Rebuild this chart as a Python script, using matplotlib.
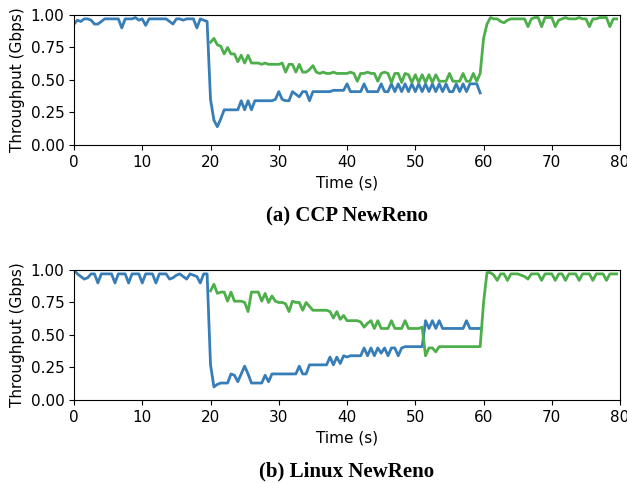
import numpy as np
import matplotlib
matplotlib.use("Agg")
import matplotlib.pyplot as plt

# sample times (0.5 s steps)
time_flow1 = np.arange(0, 60, 0.5)
time_flow2 = np.arange(20, 80, 0.5)

# (a) CCP NewReno
ccp_flow1 = [0.93, 0.96, 0.95, 0.97, 0.97, 0.96, 0.93, 0.93, 0.95, 0.97,
             0.97, 0.97, 0.97, 0.97, 0.90, 0.97, 0.97, 0.97, 0.98, 0.96,
             0.97, 0.92, 0.97, 0.97, 0.97, 0.97, 0.97, 0.97, 0.95, 0.93,
             0.97, 0.97, 0.96, 0.97, 0.97, 0.97, 0.90, 0.97, 0.96, 0.95,
             0.35, 0.19, 0.14, 0.20, 0.27, 0.27, 0.27, 0.27, 0.27, 0.34,
             0.27, 0.34, 0.27, 0.34, 0.34, 0.34, 0.34, 0.34, 0.34, 0.35,
             0.41, 0.35, 0.34, 0.34, 0.41, 0.39, 0.37, 0.41, 0.41, 0.34,
             0.41, 0.41, 0.41, 0.41, 0.41, 0.41, 0.42, 0.42, 0.42, 0.42,
             0.47, 0.41, 0.41, 0.41, 0.41, 0.47, 0.41, 0.41, 0.41, 0.41,
             0.47, 0.41, 0.41, 0.47, 0.41, 0.47, 0.41, 0.47, 0.41, 0.47,
             0.41, 0.47, 0.41, 0.47, 0.41, 0.47, 0.41, 0.47, 0.41, 0.47,
             0.41, 0.41, 0.47, 0.41, 0.47, 0.41, 0.47, 0.47, 0.47, 0.40]
ccp_flow2 = [0.79, 0.82, 0.77, 0.76, 0.70, 0.75, 0.70, 0.70, 0.64, 0.69,
             0.63, 0.69, 0.63, 0.63, 0.63, 0.62, 0.63, 0.62, 0.62, 0.62,
             0.62, 0.63, 0.56, 0.62, 0.62, 0.56, 0.62, 0.56, 0.56, 0.58,
             0.61, 0.56, 0.55, 0.56, 0.55, 0.55, 0.56, 0.55, 0.55, 0.55,
             0.55, 0.56, 0.55, 0.49, 0.55, 0.55, 0.56, 0.55, 0.55, 0.49,
             0.55, 0.56, 0.55, 0.48, 0.55, 0.55, 0.48, 0.55, 0.54, 0.48,
             0.54, 0.48, 0.54, 0.48, 0.54, 0.48, 0.54, 0.49, 0.49, 0.49,
             0.55, 0.49, 0.49, 0.49, 0.55, 0.49, 0.49, 0.55, 0.49, 0.55,
             0.82, 0.93, 0.98, 0.97, 0.97, 0.95, 0.94, 0.96, 0.97, 0.97,
             0.97, 0.97, 0.97, 0.91, 0.97, 0.98, 0.98, 0.91, 0.98, 0.98,
             0.98, 0.91, 0.96, 0.97, 0.98, 0.97, 0.97, 0.97, 0.98, 0.97,
             0.97, 0.91, 0.97, 0.97, 0.98, 0.98, 0.98, 0.91, 0.97, 0.97]

# (b) Linux NewReno
linux_flow1 = [1.00, 0.97, 0.95, 0.93, 0.94, 0.97, 0.97, 0.90, 0.97, 0.97,
               0.97, 0.97, 0.90, 0.97, 0.97, 0.97, 0.90, 0.97, 0.97, 0.97,
               0.90, 0.97, 0.97, 0.97, 0.90, 0.97, 0.97, 0.97, 0.93, 0.94,
               0.96, 0.97, 0.95, 0.93, 0.97, 0.96, 0.95, 0.90, 0.97, 0.97,
               0.27, 0.10, 0.12, 0.13, 0.13, 0.13, 0.20, 0.19, 0.14, 0.20,
               0.26, 0.20, 0.13, 0.13, 0.13, 0.13, 0.19, 0.14, 0.20, 0.20,
               0.20, 0.20, 0.20, 0.20, 0.20, 0.20, 0.26, 0.20, 0.20, 0.27,
               0.27, 0.27, 0.27, 0.27, 0.27, 0.33, 0.27, 0.33, 0.28, 0.34,
               0.33, 0.34, 0.34, 0.34, 0.34, 0.40, 0.34, 0.40, 0.34, 0.40,
               0.36, 0.40, 0.34, 0.40, 0.40, 0.34, 0.40, 0.41, 0.41, 0.41,
               0.41, 0.41, 0.41, 0.61, 0.55, 0.61, 0.55, 0.61, 0.55, 0.55,
               0.55, 0.55, 0.55, 0.55, 0.55, 0.61, 0.55, 0.55, 0.55, 0.55]
linux_flow2 = [0.84, 0.89, 0.82, 0.83, 0.83, 0.76, 0.83, 0.76, 0.76, 0.76,
               0.75, 0.68, 0.83, 0.83, 0.83, 0.76, 0.82, 0.75, 0.80, 0.76,
               0.75, 0.75, 0.74, 0.68, 0.76, 0.75, 0.75, 0.69, 0.75, 0.72,
               0.69, 0.69, 0.69, 0.69, 0.69, 0.68, 0.63, 0.68, 0.62, 0.65,
               0.61, 0.61, 0.61, 0.61, 0.60, 0.56, 0.59, 0.61, 0.55, 0.61,
               0.55, 0.55, 0.55, 0.61, 0.55, 0.55, 0.55, 0.61, 0.55, 0.55,
               0.55, 0.55, 0.56, 0.34, 0.40, 0.40, 0.37, 0.41, 0.41, 0.41,
               0.41, 0.41, 0.41, 0.41, 0.41, 0.41, 0.41, 0.41, 0.41, 0.41,
               0.75, 0.98, 0.98, 0.96, 0.92, 0.97, 0.97, 0.92, 0.97, 0.97,
               0.97, 0.96, 0.95, 0.93, 0.97, 0.97, 0.97, 0.92, 0.97, 0.97,
               0.97, 0.92, 0.97, 0.97, 0.92, 0.97, 0.97, 0.97, 0.92, 0.97,
               0.97, 0.97, 0.92, 0.97, 0.97, 0.97, 0.92, 0.97, 0.97, 0.97]

captions = ["(a) CCP NewReno", "(b) Linux NewReno"]

blue = "#377eb8"
green = "#4daf4a"


# draw one throughput panel
def draw_panel(ax, flow1, flow2, caption):
    ax.plot(time_flow1, flow1, color=blue, linewidth=2)
    ax.plot(time_flow2, flow2, color=green, linewidth=2)
    ax.set_xlim(0, 80)
    ax.set_ylim(0, 1.0)
    ax.set_xticks(range(0, 81, 10))
    ax.set_yticks([0.0, 0.25, 0.5, 0.75, 1.0])
    ax.set_yticklabels(["0.00", "0.25", "0.50", "0.75", "1.00"])
    ax.tick_params(labelsize=11)
    ax.set_xlabel("Time (s)", fontsize=11)
    ax.set_ylabel("Throughput (Gbps)", fontsize=11)
    ax.text(0.5, -0.55, caption, transform=ax.transAxes, ha="center", va="center",
            fontsize=15, fontweight="bold", family=["Liberation Serif"])


fig = plt.figure(figsize=(6.27, 4.83), dpi=100)
ax1 = fig.add_axes([0.118, 0.700, 0.871, 0.269])
ax2 = fig.add_axes([0.118, 0.172, 0.871, 0.269])

draw_panel(ax1, ccp_flow1, ccp_flow2, captions[0])
draw_panel(ax2, linux_flow1, linux_flow2, captions[1])

fig.savefig("out.png", dpi=100)
